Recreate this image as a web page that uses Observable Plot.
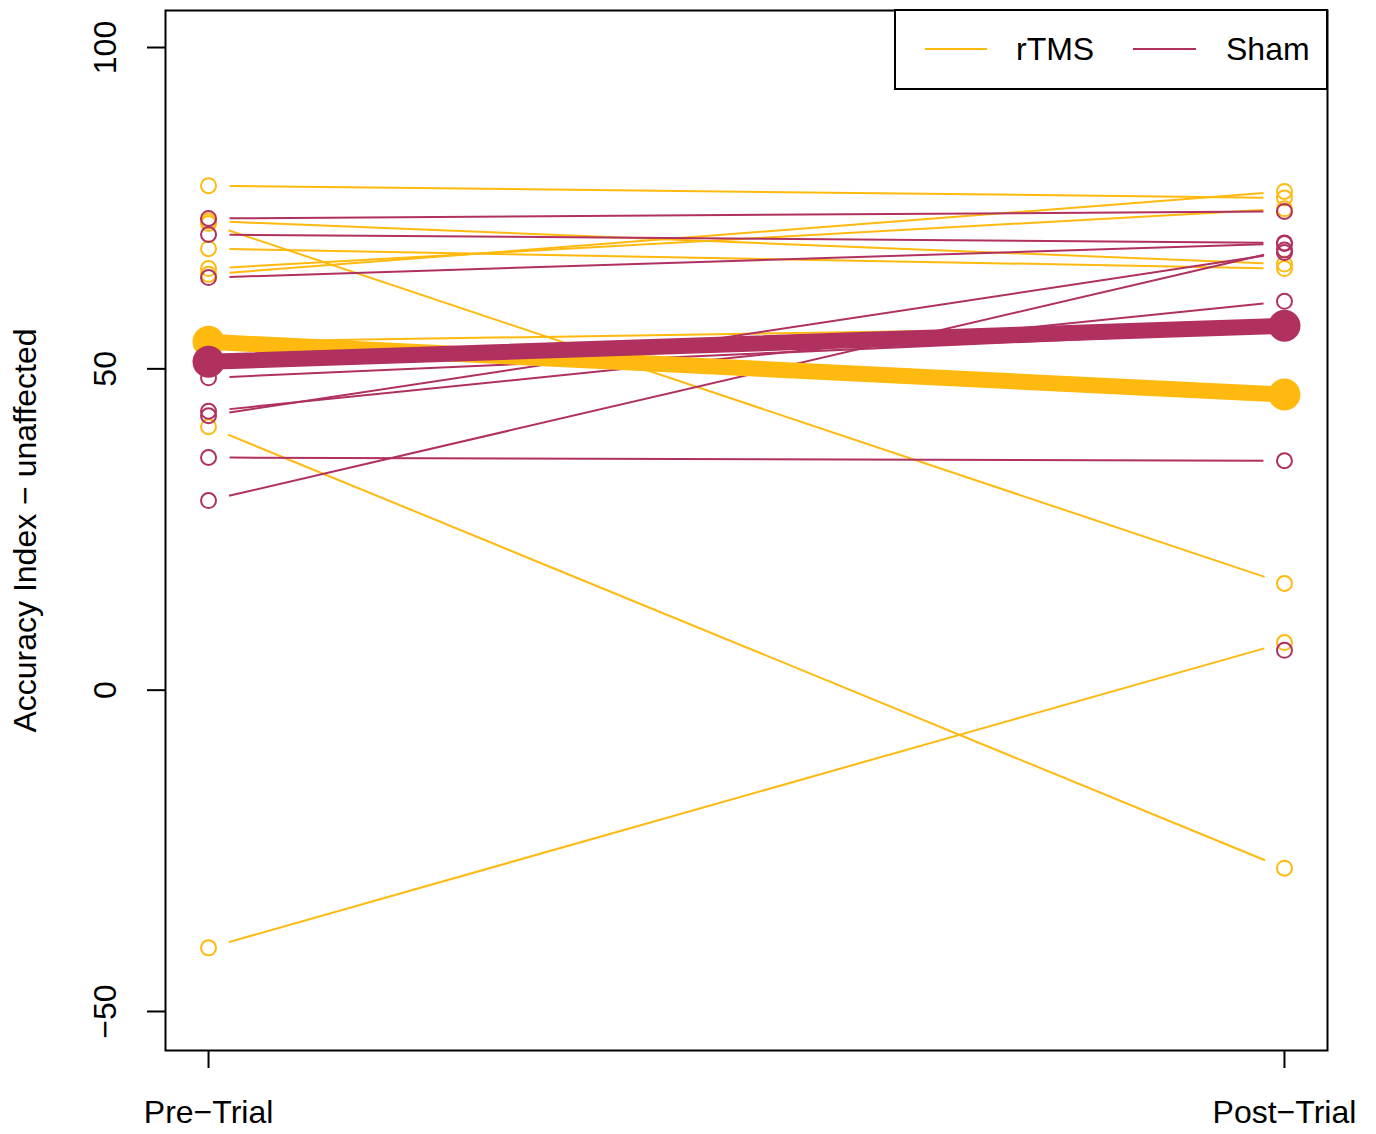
<!DOCTYPE html>
<html>
<head>
<meta charset="utf-8">
<script src="https://cdn.jsdelivr.net/npm/d3@7"></script>
<script src="https://cdn.jsdelivr.net/npm/@observablehq/plot@0.6"></script>
<style>
  body { margin: 0; background: #fff; font-family: "Liberation Sans", Arial, Helvetica, sans-serif; }
  #wrap { position: relative; width: 1376px; height: 1134px; }
  #legend { position: absolute; left: 894px; top: 9px; width: 434px; height: 81px; border: 2px solid #000;
            background: #fff; box-sizing: border-box; font-size: 32px; }
  #legend .sw { position: absolute; height: 2px; top: 37px; }
  #legend .lb { position: absolute; top: 18px; line-height: 40px; color: #000; }
</style>
</head>
<body>
<div id="wrap"></div>
<script>
// ---- data ----
const phases = ["Pre\u2212Trial", "Post\u2212Trial"];
const groups = ["rTMS", "Sham"];
const groupColors = ["#FFB90F", "#B03060"];
const yTicks = [-50, 0, 50, 100];
const yTickLabels = ["\u221250", "0", "50", "100"];
const yTitle = "Accuracy Index \u2212 unaffected";

const rtmsPre  = [78.5, 73.0, 72.6, 68.7, 65.6, 64.7, 54.2, 41.0, -40.1];
const rtmsPost = [76.6, 66.3, 16.6, 65.6, 74.9, 77.6, 56.7, -27.7, 7.4];
const shamPre  = [73.4, 70.9, 64.2, 48.6, 42.7, 43.4, 36.2, 29.5, null];
const shamPost = [74.5, 69.6, 69.5, 56.0, 68.1, 60.5, 35.7, 68.5, 6.2];
const rtmsMean = [54.2, 46.0];
const shamMean = [51.1, 56.7];

// ---- layout ----
const W = 1376, H = 1134;
const mL = 165, mR = 49, mT = 10, mB = 84;
const xDom = [0.96, 2.04];
const yDom = [-56.07, 105.76];
const pxX = (W - mL - mR) / (xDom[1] - xDom[0]);
const pxY = (H - mT - mB) / (yDom[1] - yDom[0]);
const gapPx = 21;

function subjects(group, pre, post) {
  return pre.map((p, i) => ({group, pre: p, post: post[i]}));
}
const subj = [...subjects("rTMS", rtmsPre, rtmsPost), ...subjects("Sham", shamPre, shamPost)];

// segments with R-style gaps near the points
const segs = subj.filter(d => d.pre != null && d.post != null).map(d => {
  const dx = 1 * pxX, dy = (d.post - d.pre) * pxY;
  const f = gapPx / Math.hypot(dx, dy);
  return {group: d.group, x1: 1 + f, x2: 2 - f,
          y1: d.pre + f * (d.post - d.pre), y2: d.post - f * (d.post - d.pre)};
});

const pts = [];
subj.forEach(d => {
  if (d.pre != null) pts.push({group: d.group, phase: 1, value: d.pre});
  if (d.post != null) pts.push({group: d.group, phase: 2, value: d.post});
});
const means = [
  ...rtmsMean.map((v, i) => ({group: "rTMS", phase: i + 1, value: v})),
  ...shamMean.map((v, i) => ({group: "Sham", phase: i + 1, value: v}))
];
const colorOf = g => groupColors[groups.indexOf(g)];

const marks = [];
groups.forEach(g => {
  marks.push(Plot.link(segs.filter(d => d.group === g),
    {x1: "x1", y1: "y1", x2: "x2", y2: "y2", stroke: colorOf(g), strokeWidth: 2}));
});
groups.forEach(g => {
  marks.push(Plot.dot(pts.filter(d => d.group === g),
    {x: "phase", y: "value", r: 7.5, stroke: colorOf(g), fill: "none", strokeWidth: 2}));
});
groups.forEach(g => {
  const m = means.filter(d => d.group === g);
  marks.push(Plot.line(m, {x: "phase", y: "value", stroke: colorOf(g), strokeWidth: 16, strokeLinecap: "round"}));
  marks.push(Plot.dot(m, {x: "phase", y: "value", r: 16, fill: colorOf(g), stroke: "none"}));
});

const chart = Plot.plot({
  width: W, height: H,
  marginLeft: mL, marginRight: mR, marginTop: mT, marginBottom: mB,
  style: {fontFamily: "'Liberation Sans', Arial, Helvetica, sans-serif", fontSize: "32px", color: "#000", background: "#fff"},
  x: {domain: xDom, axis: null},
  y: {domain: yDom, axis: null},
  marks: [
    ...marks,
    Plot.frame({stroke: "#000", strokeWidth: 2}),
    Plot.axisY(yTicks, {anchor: "left", tickSize: 18, strokeWidth: 2, tickFormat: () => ""}),
    Plot.text(yTicks, {y: d => d, frameAnchor: "left", dx: -60, rotate: -90, textAnchor: "middle",
      text: (d, i) => yTickLabels[i], fontSize: 32, fill: "#000"}),
    Plot.text([yTitle], {frameAnchor: "left", dx: -140, rotate: -90, textAnchor: "middle",
      text: d => d, fontSize: 32, fill: "#000"}),
    Plot.axisX([1, 2], {anchor: "bottom", tickSize: 18, tickPadding: 32, strokeWidth: 2,
      tickFormat: d => phases[d - 1], fontSize: 32})
  ]
});
const wrap = document.getElementById("wrap");
wrap.appendChild(chart);

// legend inside the plot region (top-right), as in the reference
const leg = document.createElement("div");
leg.id = "legend";
const swLeft = [29, 237], swWidth = [62, 63], lbLeft = [120, 330];
groups.forEach((g, i) => {
  const sw = document.createElement("div");
  sw.className = "sw";
  sw.style.left = swLeft[i] + "px";
  sw.style.width = swWidth[i] + "px";
  sw.style.background = groupColors[i];
  leg.appendChild(sw);
  const lb = document.createElement("div");
  lb.className = "lb";
  lb.style.left = lbLeft[i] + "px";
  lb.textContent = g;
  leg.appendChild(lb);
});
wrap.appendChild(leg);
</script>
</body>
</html>
